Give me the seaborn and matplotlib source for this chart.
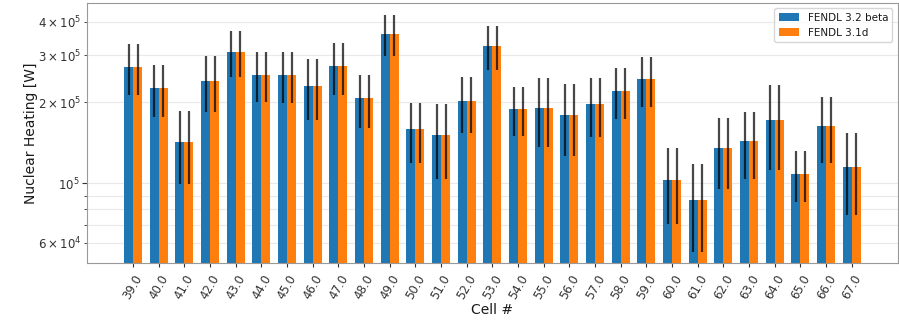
import numpy as np
import pandas as pd
import matplotlib
matplotlib.use("Agg")
import matplotlib.pyplot as plt
import seaborn as sns

# cell numbers
cells = [39.0, 40.0, 41.0, 42.0, 43.0, 44.0, 45.0, 46.0, 47.0, 48.0,
         49.0, 50.0, 51.0, 52.0, 53.0, 54.0, 55.0, 56.0, 57.0, 58.0,
         59.0, 60.0, 61.0, 62.0, 63.0, 64.0, 65.0, 66.0, 67.0]

# nuclear heating [W] and 1-sigma errors
heat_32 = [2.71e5, 2.26e5, 1.43e5, 2.40e5, 3.08e5, 2.54e5, 2.53e5, 2.31e5, 2.73e5, 2.07e5,
           3.60e5, 1.59e5, 1.51e5, 2.02e5, 3.24e5, 1.89e5, 1.91e5, 1.80e5, 1.98e5, 2.21e5,
           2.44e5, 1.03e5, 0.867e5, 1.35e5, 1.44e5, 1.72e5, 1.085e5, 1.64e5, 1.15e5]
err_32 = [0.58e5, 0.49e5, 0.435e5, 0.565e5, 0.60e5, 0.54e5, 0.54e5, 0.59e5, 0.595e5, 0.46e5,
          0.63e5, 0.40e5, 0.47e5, 0.475e5, 0.61e5, 0.385e5, 0.55e5, 0.535e5, 0.495e5, 0.475e5,
          0.52e5, 0.325e5, 0.31e5, 0.395e5, 0.405e5, 0.60e5, 0.235e5, 0.45e5, 0.39e5]
heat_31 = [2.71e5, 2.26e5, 1.43e5, 2.40e5, 3.08e5, 2.54e5, 2.53e5, 2.31e5, 2.73e5, 2.07e5,
           3.60e5, 1.59e5, 1.51e5, 2.02e5, 3.24e5, 1.89e5, 1.91e5, 1.80e5, 1.98e5, 2.21e5,
           2.44e5, 1.03e5, 0.867e5, 1.35e5, 1.44e5, 1.72e5, 1.085e5, 1.64e5, 1.15e5]
err_31 = [0.58e5, 0.49e5, 0.435e5, 0.565e5, 0.60e5, 0.54e5, 0.54e5, 0.59e5, 0.595e5, 0.46e5,
          0.63e5, 0.40e5, 0.47e5, 0.475e5, 0.61e5, 0.385e5, 0.55e5, 0.535e5, 0.495e5, 0.475e5,
          0.52e5, 0.325e5, 0.31e5, 0.395e5, 0.405e5, 0.60e5, 0.235e5, 0.45e5, 0.39e5]
libraries = ["FENDL 3.2 beta", "FENDL 3.1d"]

labels = [f"{c:.1f}" for c in cells]
df = pd.DataFrame({
    "cell": labels * 2,
    "heating": heat_32 + heat_31,
    "library": [libraries[0]] * len(cells) + [libraries[1]] * len(cells),
})

sns.set_style("whitegrid", rc={
    "axes.edgecolor": "0.6",
    "xtick.bottom": True,
    "ytick.left": True,
    "xtick.color": "0.2",
    "ytick.color": "0.2",
    "text.color": "0.1",
    "axes.labelcolor": "0.1",
})

fig, ax = plt.subplots(figsize=(8.99, 3.2), dpi=100)
sns.barplot(data=df, x="cell", y="heating", hue="library", order=labels,
            hue_order=libraries, palette=["#1f77b4", "#ff7f0e"], width=0.7,
            saturation=1, linewidth=0, errorbar=None, legend=False, ax=ax)
ax.set_yscale("log")

bars = list(ax.containers)
for cont, vals, errs in zip(bars, [heat_32, heat_31], [err_32, err_31]):
    xs = [p.get_x() + p.get_width() / 2 for p in cont.patches]
    ax.errorbar(xs, vals, yerr=errs, fmt="none", ecolor="k",
                elinewidth=1.6, alpha=0.72, capsize=0)

# limits like matplotlib's default margins
w = 0.35
lo, hi = -w, len(cells) - 1 + w
pad = 0.05 * (hi - lo)
ax.set_xlim(lo - pad, hi + pad)
ymin = np.log10(min(np.array(heat_32 + heat_31) - np.array(err_32 + err_31)))
ymax = np.log10(max(np.array(heat_32 + heat_31) + np.array(err_32 + err_31)))
ypad = 0.05 * (ymax - ymin)
ax.set_ylim(10 ** (ymin - ypad), 10 ** (ymax + ypad))

ax.xaxis.grid(False)
ax.yaxis.grid(True, which="both", color="#e9e9e9", linewidth=0.8)
ax.tick_params(axis="x", rotation=60, labelsize=8.5, length=3)
ax.tick_params(axis="y", which="both", labelsize=8.5, pad=2)
ax.tick_params(axis="y", which="major", length=3.5)
ax.tick_params(axis="y", which="minor", length=2)

ax.set_xlabel("Cell #", fontsize=10, labelpad=1)
ax.set_ylabel("Nuclear Heating [W]", fontsize=10, labelpad=0)
ax.legend(bars, libraries, loc="upper right", fontsize=7.5, frameon=True,
          edgecolor="0.8", fancybox=True)

fig.subplots_adjust(left=0.097, right=0.9985, top=0.99, bottom=0.177)
fig.savefig("out.png", dpi=100)
